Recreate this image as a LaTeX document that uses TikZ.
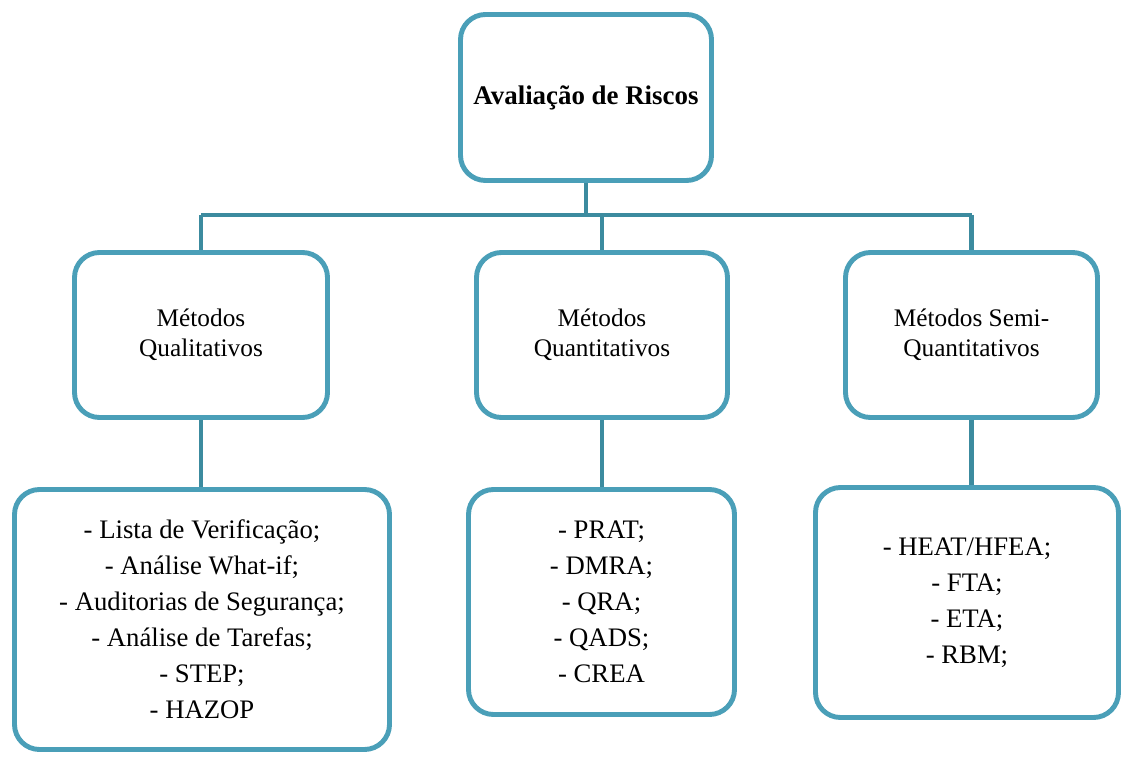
\documentclass[tikz,border=0pt]{standalone}
\usepackage{fontspec}
\setmainfont{Liberation Serif}
\usepackage{xcolor}
\usepackage{tikz}
\usetikzlibrary{positioning,calc}
\definecolor{Frame}{HTML}{4A9FB8}
\definecolor{Link}{HTML}{3C8B9F}
\tikzset{
  box/.style={rounded corners=5mm,draw=Frame,fill=white,line width=2.8pt,align=center,inner sep=2pt,font=\fontsize{14.4}{17}\selectfont},
  toprisk/.style={box,minimum width=5.02cm,minimum height=3.32cm,font=\fontsize{15.3}{18}\selectfont\bfseries},
  method/.style={box,minimum height=3.3cm},
  tools/.style={box,font=\fontsize{15.2}{20.5}\selectfont},
  link/.style={draw=Link,line width=2.8pt}
}

\begin{document}
\begin{tikzpicture}
  \useasboundingbox (0,0) rectangle (22.46,15.12);
  % top level
  \node[toprisk] (risk) at (11.72,13.17) {Avaliação de Riscos};
  % methods
  \node[method,minimum width=5.06cm] (qual) at (4.02,8.42) {Métodos\\Qualitativos};
  \node[method,minimum width=5.02cm] (quant) at (12.04,8.42) {Métodos\\Quantitativos};
  \node[method,minimum width=5.04cm] (semi) at (19.43,8.42) {Métodos Semi-\\Quantitativos};
  % tools of each method
  \node[tools,minimum width=7.5cm,minimum height=5.2cm] (qualtools) at (4.04,2.73)
    {- Lista de Verificação;\\- Análise What-if;\\- Auditorias de Segurança;\\- Análise de Tarefas;\\- STEP;\\- HAZOP};
  \node[tools,minimum width=5.32cm,minimum height=4.5cm] (quanttools) at (12.03,3.08)
    {- PRAT;\\- DMRA;\\- QRA;\\- QADS;\\- CREA};
  \node[tools,minimum width=6.06cm,minimum height=4.6cm] (semitools) at (19.34,3.07)
    {- HEAT/HFEA;\\- FTA;\\- ETA;\\- RBM;};
  % connectors
  \coordinate (bus) at (0,10.82);
  \draw[link] (risk.south) -- (risk.south |- bus);
  \draw[link] (qual.north |- bus) -- (semi.north |- bus);
  \draw[link] (qual.north |- bus) -- (qual.north);
  \draw[link] (quant.north |- bus) -- (quant.north);
  \draw[link] (semi.north |- bus) -- (semi.north);
  \draw[link] (qual.south) -- (qual.south |- qualtools.north);
  \draw[link] (quant.south) -- (quant.south |- quanttools.north);
  \draw[link] (semi.south) -- (semi.south |- semitools.north);
\end{tikzpicture}
\end{document}
